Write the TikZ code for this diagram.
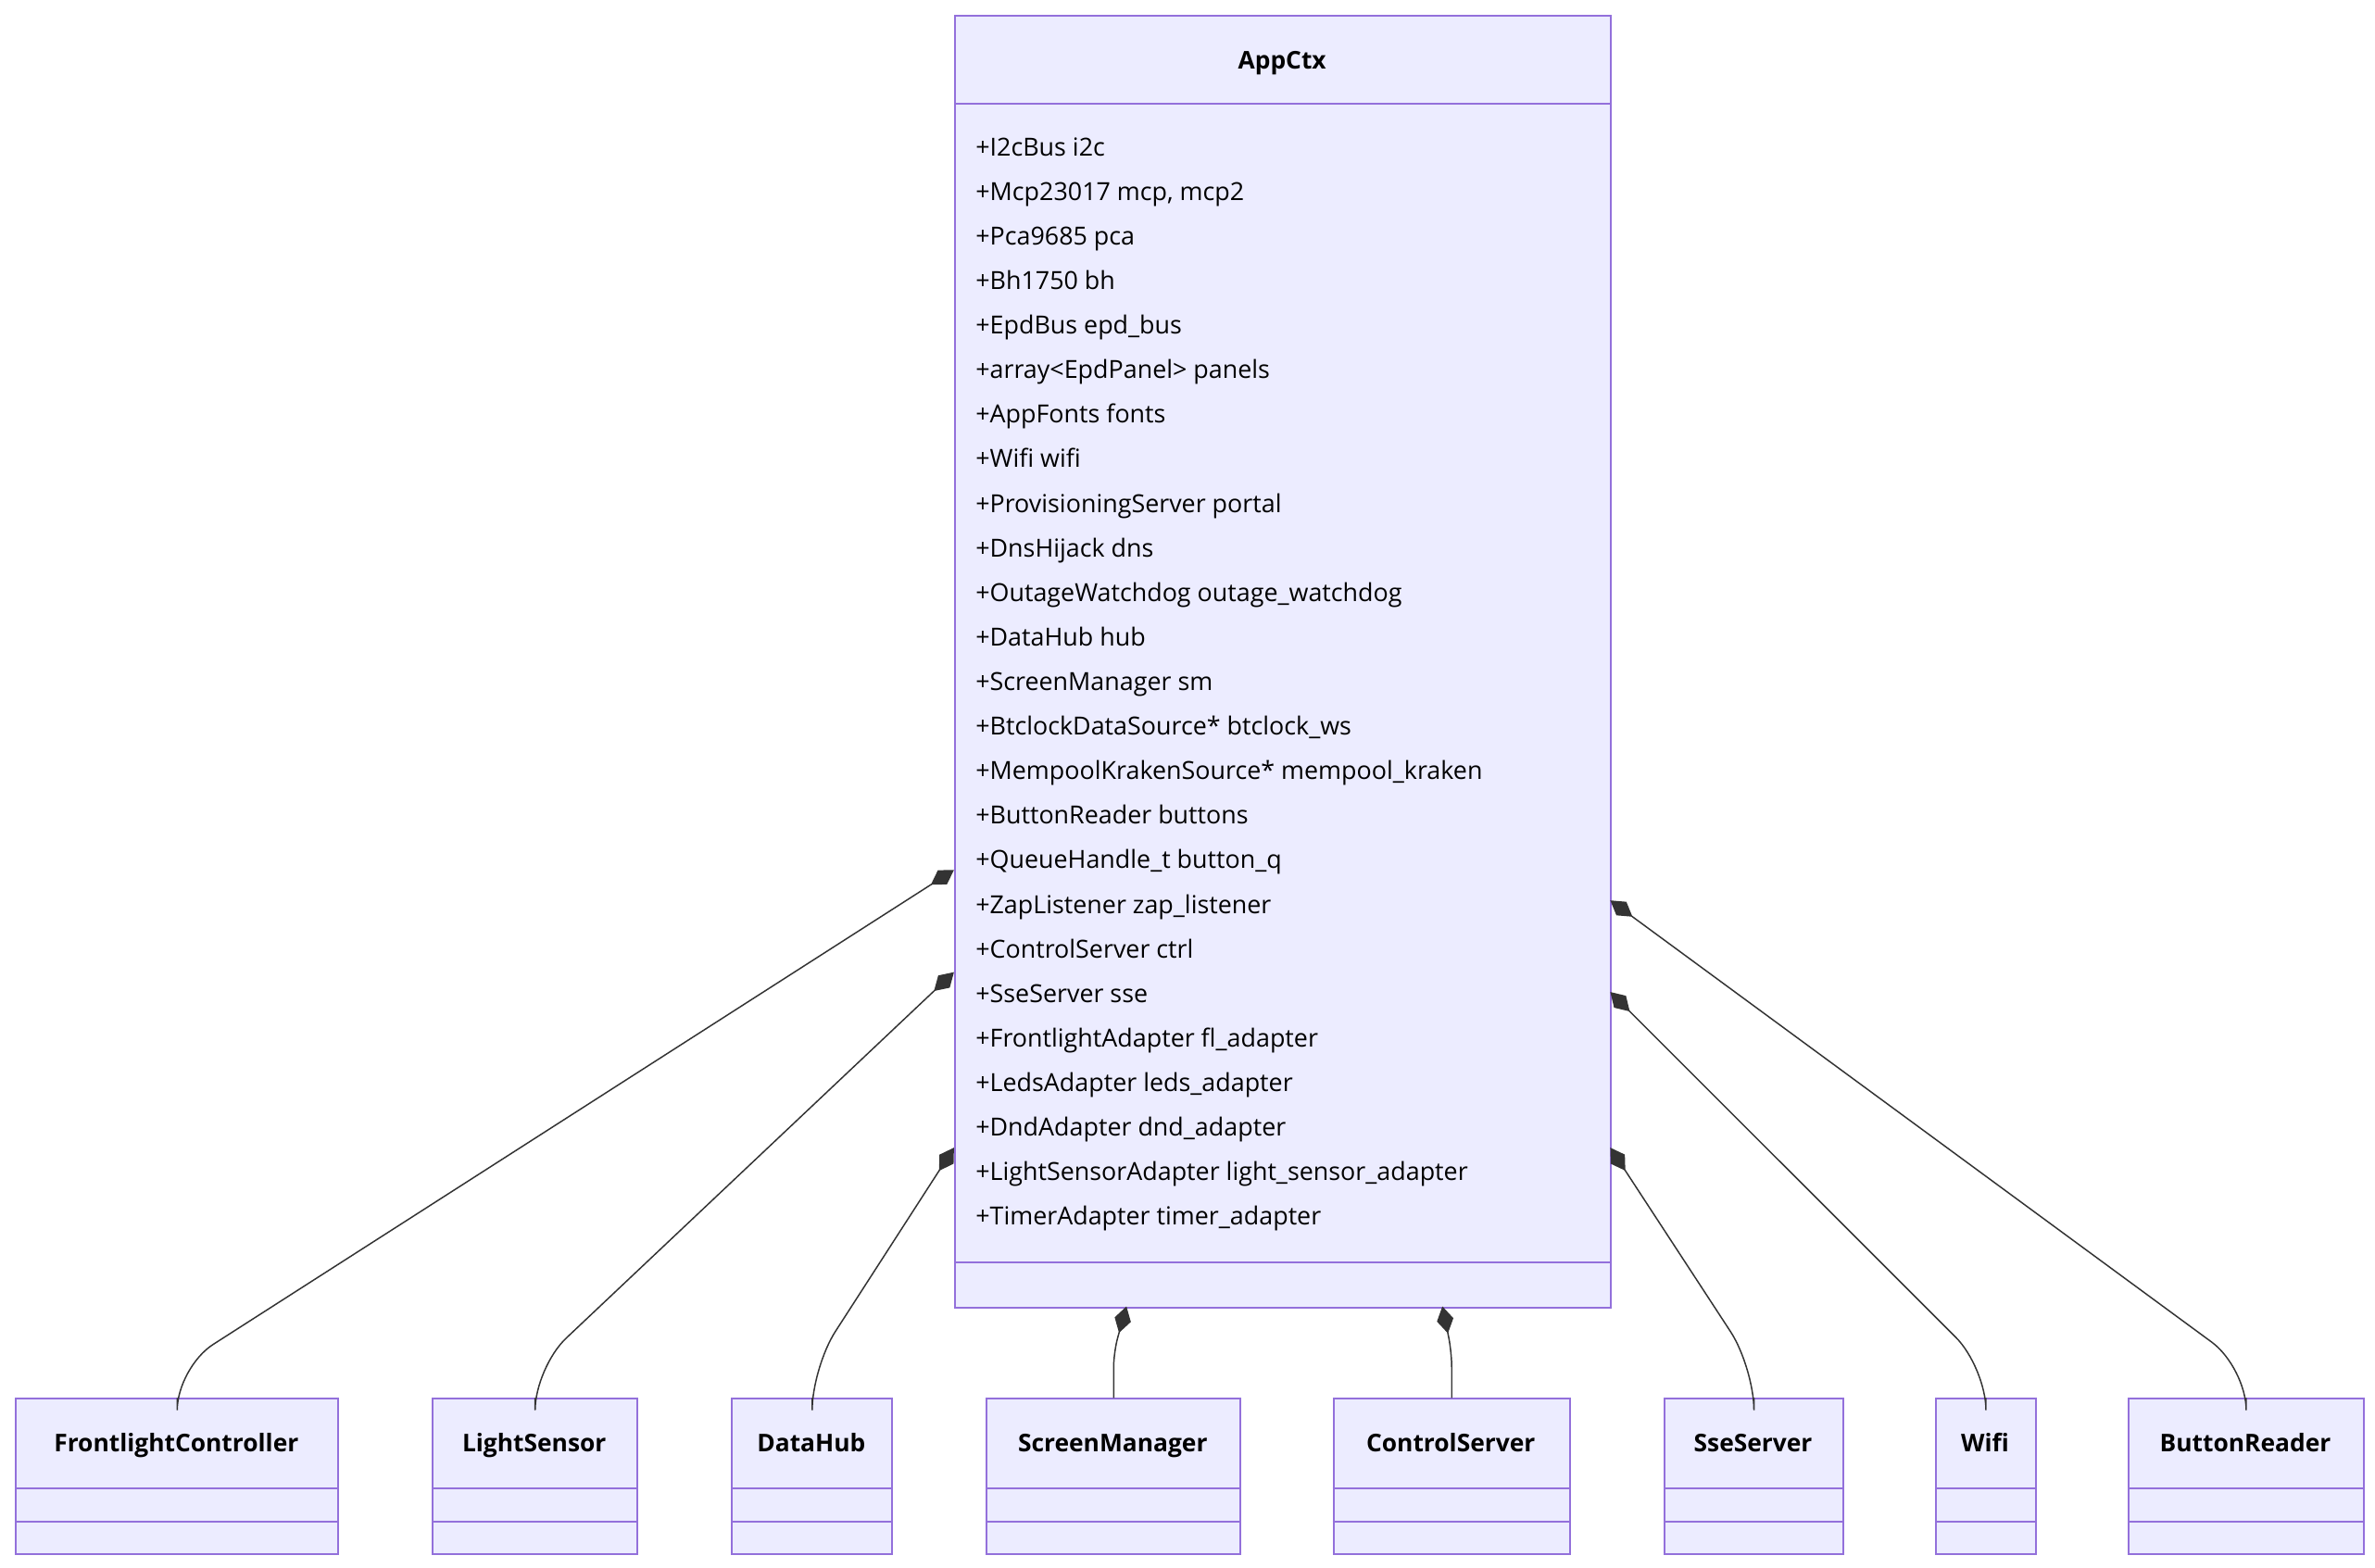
\documentclass[tikz,border=0pt]{standalone}
\usepackage{fontspec}
\setmainfont{Open Sans}
\usetikzlibrary{arrows.meta}
\definecolor{cfill}{HTML}{ECECFF}
\definecolor{cline}{HTML}{9370DB}
\definecolor{ctxt}{HTML}{333333}
\begin{document}
\begin{tikzpicture}[x=1pt,y=-1pt,
  box/.style={draw=cline,fill=cfill,line width=1.2pt,inner sep=0,anchor=north west},
  attr/.style={anchor=base west,inner sep=0,font=\fontsize{16.3}{18}\selectfont,text=black},
  hdr/.style={anchor=base,inner sep=0,font=\fontsize{16}{18}\selectfont\bfseries,text=black},
  conn/.style={draw=ctxt,line width=0.9pt,rounded corners=28,-{Diamond[length=18,width=11,fill=ctxt]}}]
\useasboundingbox (0,0) rectangle (1556,1027);
% AppCtx
\node[box,minimum width=430,minimum height=846] (app) at (625,10) {};
\draw[cline,line width=1.2pt] (625,68) -- (1055,68) (625,827) -- (1055,827);
\node[hdr] (apph) at (840,45) {AppCtx};
\foreach \t [count=\i from 0] in {+I2cBus i2c,{+Mcp23017 mcp, mcp2},+Pca9685 pca,+Bh1750 bh,+EpdBus epd\_bus,+array<EpdPanel> panels,+AppFonts fonts,+Wifi wifi,+ProvisioningServer portal,+DnsHijack dns,+OutageWatchdog outage\_watchdog,+DataHub hub,+ScreenManager sm,+BtclockDataSource* btclock\_ws,+MempoolKrakenSource* mempool\_kraken,+ButtonReader buttons,+QueueHandle\_t button\_q,+ZapListener zap\_listener,+ControlServer ctrl,+SseServer sse,+FrontlightAdapter fl\_adapter,+LedsAdapter leds\_adapter,+DndAdapter dnd\_adapter,+LightSensorAdapter light\_sensor\_adapter,+TimerAdapter timer\_adapter}
  \node[attr] (a\i) at (639,{102+29.2*\i}) {\t};
% bottom boxes
\foreach \n/\xa/\xb/\t in {fc/10/221/FrontlightController,ls/283/417/LightSensor,dh/479/584/DataHub,sm/646/812/ScreenManager,cs/873/1028/ControlServer,ss/1090/1207/SseServer,wf/1268/1333/Wifi,br/1394/1548/ButtonReader}{
  \node[box,minimum width={\xb-\xa},minimum height=102] (\n) at (\xa,916) {};
  \draw[cline,line width=1.2pt] (\xa,975) -- (\xb,975) (\xa,997) -- (\xb,997);
  \node[hdr] (\n h) at ({(\xa+\xb)/2},951) {\t};
}
\coordinate (efc) at (625,570);
\coordinate (els) at (625,637);
\coordinate (edh) at (625,752);
\coordinate (esm) at (738,856);
\coordinate (ecs) at (945,856);
\coordinate (ess) at (1055,752);
\coordinate (ewf) at (1055,650);
\coordinate (ebr) at (1055,590);
\foreach \n in {fc,ls,dh,ss,wf,br}
  \draw[conn] (\n.north) -- ++(0,-20) -- (e\n);
\draw[conn,rounded corners=10] (sm.north) -- ++(0,-30) -- (esm);
\draw[conn,rounded corners=10] (cs.north) -- ++(0,-30) -- (ecs);
\end{tikzpicture}
\end{document}
